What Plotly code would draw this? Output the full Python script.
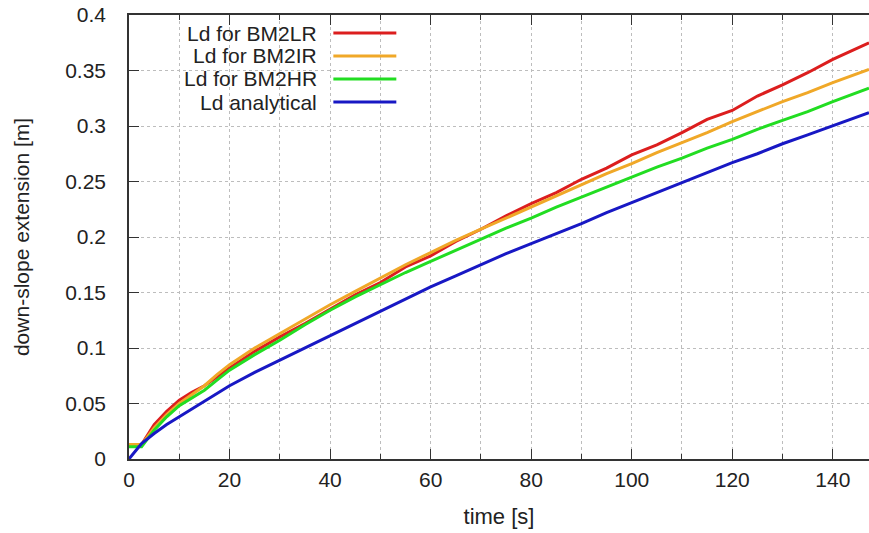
import plotly.graph_objects as go

# time [s]
time = [0, 2.5, 5, 7.5, 10, 12.5, 15, 17.5, 20, 25, 30, 35, 40, 45, 50, 55, 60, 65,
        70, 75, 80, 85, 90, 95, 100, 105, 110, 115, 120, 125, 130, 135, 140, 147.2]

ld_bm2lr = [0.013, 0.013, 0.031, 0.043, 0.053, 0.060, 0.066, 0.074, 0.082, 0.097, 0.110,
            0.122, 0.135, 0.148, 0.159, 0.173, 0.183, 0.196, 0.207, 0.219, 0.230, 0.240,
            0.252, 0.262, 0.274, 0.283, 0.294, 0.306, 0.314, 0.327, 0.337, 0.348, 0.360, 0.375]
ld_bm2ir = [0.013, 0.013, 0.028, 0.040, 0.050, 0.058, 0.066, 0.076, 0.085, 0.100, 0.113,
            0.126, 0.139, 0.151, 0.163, 0.175, 0.186, 0.197, 0.207, 0.217, 0.227, 0.237,
            0.247, 0.257, 0.266, 0.276, 0.285, 0.294, 0.304, 0.313, 0.322, 0.330, 0.339, 0.351]
ld_bm2hr = [0.011, 0.011, 0.026, 0.038, 0.048, 0.055, 0.062, 0.071, 0.080, 0.094, 0.107,
            0.121, 0.134, 0.146, 0.157, 0.168, 0.178, 0.188, 0.198, 0.208, 0.217, 0.227,
            0.236, 0.245, 0.254, 0.263, 0.271, 0.280, 0.288, 0.297, 0.305, 0.313, 0.322, 0.334]
ld_analytical = [0.0, 0.014, 0.023, 0.031, 0.038, 0.045, 0.052, 0.059, 0.066, 0.078, 0.089,
                 0.100, 0.111, 0.122, 0.133, 0.144, 0.155, 0.165, 0.175, 0.185, 0.194, 0.203,
                 0.212, 0.222, 0.231, 0.240, 0.249, 0.258, 0.267, 0.275, 0.284, 0.292, 0.300, 0.312]

names = ["Ld for BM2LR", "Ld for BM2IR", "Ld for BM2HR", "Ld analytical"]
colors = ["#dc1e1e", "#f0a828", "#22dd22", "#1818c4"]
series = [ld_bm2lr, ld_bm2ir, ld_bm2hr, ld_analytical]

FONT = "Liberation Sans"
W, H = 869, 533
L, R, T, B = 128.5, 0, 15, 74
pw, ph = W - L - R, H - T - B


def px(x):
    return (x - L) / pw


def py(y):
    return (H - B - y) / ph


fig = go.Figure()
for name, ys, c in zip(names, series, colors):
    fig.add_trace(go.Scatter(x=time, y=ys, name=name, mode="lines",
                             line=dict(color=c, width=3), showlegend=False))

# legend drawn gnuplot-style: text right-aligned, sample line to the right
row_y = [33, 56, 79, 102]
for name, c, ry in zip(names, colors, row_y):
    fig.add_annotation(x=px(319), y=py(ry), xref="paper", yref="paper", text=name,
                       showarrow=False, xanchor="right", yanchor="middle",
                       font=dict(family=FONT, size=21, color="#222"))
    fig.add_shape(type="line", xref="paper", yref="paper",
                  x0=px(333), x1=px(396), y0=py(ry), y1=py(ry),
                  line=dict(color=c, width=3))

axis_common = dict(
    showline=True, linecolor="#333", linewidth=1.5,
    ticks="inside", tickcolor="#333", tickwidth=1.2,
    showgrid=True, gridcolor="#bdbdbd", gridwidth=1, griddash="dot",
    zeroline=False,
    tickfont=dict(family=FONT, size=21, color="#222"),
)

fig.update_xaxes(**axis_common, range=[0, 147.2], dtick=20, tick0=0, ticklen=10,
                 mirror="ticks",
                 minor=dict(dtick=10, ticks="inside", ticklen=5, tickcolor="#333",
                            showgrid=True, gridcolor="#bdbdbd", griddash="dot"),
                 ticklabelstandoff=1,
                 title=dict(text="time [s]", font=dict(family=FONT, size=22, color="#222"),
                            standoff=19))
fig.update_yaxes(**axis_common, range=[0, 0.4], dtick=0.05, tick0=0, ticklen=10,
                 ticklabelstandoff=17,
                 title=dict(text="down-slope extension [m]",
                            font=dict(family=FONT, size=21, color="#222"), standoff=30))

fig.update_layout(width=W, height=H, margin=dict(l=L, r=R, t=T, b=B, autoexpand=False),
                  plot_bgcolor="white", paper_bgcolor="white",
                  font=dict(family=FONT))

fig.write_html("out.html", config={"displayModeBar": False},
               post_script="document.body.style.margin='0px';document.body.style.overflow='hidden';")
